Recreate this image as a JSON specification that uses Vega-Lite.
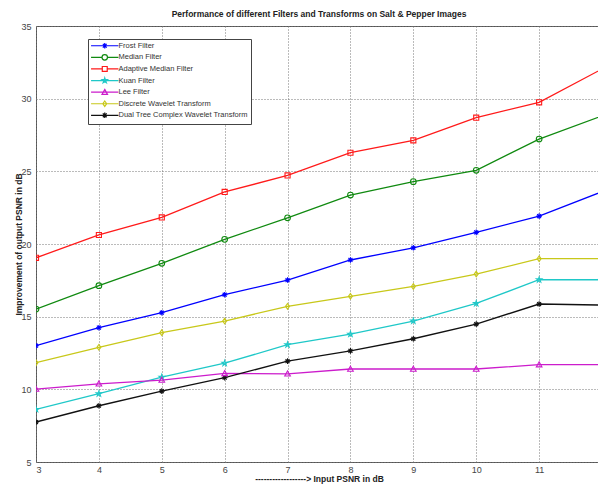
{
  "$schema": "https://vega.github.io/schema/vega-lite/v6.json",
  "width": 566,
  "height": 436,
  "autosize": {"type": "none"},
  "padding": {"left": 36, "top": 26, "right": 0, "bottom": 22},
  "background": "white",
  "config": {
    "font": "Liberation Sans",
    "view": {"stroke": "#555", "strokeWidth": 1},
    "axis": {
      "gridColor": "#777",
      "gridDash": [1, 2],
      "gridOpacity": 1,
      "domain": false,
      "ticks": false,
      "labelFont": "Liberation Sans",
      "labelFontSize": 9,
      "labelColor": "#444",
      "titleFont": "Liberation Sans",
      "titleFontSize": 8.5,
      "titleFontWeight": "bold",
      "titleColor": "#222"
    },
    "legend": {
      "orient": "none",
      "legendX": 52,
      "legendY": 13,
      "padding": 3,
      "fillColor": "white",
      "strokeColor": "#444",
      "symbolSize": 30,
      "symbolOffset": 10,
      "symbolStrokeWidth": 1.2,
      "symbolFillColor": "transparent",
      "labelOffset": 10,
      "labelFontSize": 7.5,
      "labelFont": "Liberation Sans",
      "labelColor": "#333",
      "labelLimit": 300,
      "rowPadding": 0.6
    }
  },
  "title": {
    "text": "Performance of different Filters and Transforms on Salt & Pepper Images",
    "fontSize": 8.5,
    "fontWeight": "bold",
    "font": "Liberation Sans",
    "color": "#222",
    "anchor": "middle",
    "offset": 4
  },
  "data": {
    "values": [
      {"s": "Frost Filter", "x": 3, "y": 13.0}, {"s": "Frost Filter", "x": 4, "y": 14.24}, {"s": "Frost Filter", "x": 5, "y": 15.27}, {"s": "Frost Filter", "x": 6, "y": 16.51}, {"s": "Frost Filter", "x": 7, "y": 17.52}, {"s": "Frost Filter", "x": 8, "y": 18.9}, {"s": "Frost Filter", "x": 9, "y": 19.74}, {"s": "Frost Filter", "x": 10, "y": 20.8}, {"s": "Frost Filter", "x": 11, "y": 21.92}, {"s": "Frost Filter", "x": 12, "y": 23.6},
      {"s": "Median Filter", "x": 3, "y": 15.52}, {"s": "Median Filter", "x": 4, "y": 17.13}, {"s": "Median Filter", "x": 5, "y": 18.67}, {"s": "Median Filter", "x": 6, "y": 20.32}, {"s": "Median Filter", "x": 7, "y": 21.8}, {"s": "Median Filter", "x": 8, "y": 23.37}, {"s": "Median Filter", "x": 9, "y": 24.29}, {"s": "Median Filter", "x": 10, "y": 25.07}, {"s": "Median Filter", "x": 11, "y": 27.22}, {"s": "Median Filter", "x": 12, "y": 28.81},
      {"s": "Adaptive Median Filter", "x": 3, "y": 19.05}, {"s": "Adaptive Median Filter", "x": 4, "y": 20.62}, {"s": "Adaptive Median Filter", "x": 5, "y": 21.83}, {"s": "Adaptive Median Filter", "x": 6, "y": 23.58}, {"s": "Adaptive Median Filter", "x": 7, "y": 24.72}, {"s": "Adaptive Median Filter", "x": 8, "y": 26.28}, {"s": "Adaptive Median Filter", "x": 9, "y": 27.13}, {"s": "Adaptive Median Filter", "x": 10, "y": 28.69}, {"s": "Adaptive Median Filter", "x": 11, "y": 29.75}, {"s": "Adaptive Median Filter", "x": 12, "y": 32.04},
      {"s": "Kuan Filter", "x": 3, "y": 8.62}, {"s": "Kuan Filter", "x": 4, "y": 9.7}, {"s": "Kuan Filter", "x": 5, "y": 10.84}, {"s": "Kuan Filter", "x": 6, "y": 11.8}, {"s": "Kuan Filter", "x": 7, "y": 13.07}, {"s": "Kuan Filter", "x": 8, "y": 13.8}, {"s": "Kuan Filter", "x": 9, "y": 14.7}, {"s": "Kuan Filter", "x": 10, "y": 15.91}, {"s": "Kuan Filter", "x": 11, "y": 17.54}, {"s": "Kuan Filter", "x": 12, "y": 17.54},
      {"s": "Lee Filter", "x": 3, "y": 10.02}, {"s": "Lee Filter", "x": 4, "y": 10.38}, {"s": "Lee Filter", "x": 5, "y": 10.64}, {"s": "Lee Filter", "x": 6, "y": 11.1}, {"s": "Lee Filter", "x": 7, "y": 11.07}, {"s": "Lee Filter", "x": 8, "y": 11.4}, {"s": "Lee Filter", "x": 9, "y": 11.4}, {"s": "Lee Filter", "x": 10, "y": 11.4}, {"s": "Lee Filter", "x": 11, "y": 11.7}, {"s": "Lee Filter", "x": 12, "y": 11.7},
      {"s": "Discrete Wavelet Transform", "x": 3, "y": 11.83}, {"s": "Discrete Wavelet Transform", "x": 4, "y": 12.89}, {"s": "Discrete Wavelet Transform", "x": 5, "y": 13.9}, {"s": "Discrete Wavelet Transform", "x": 6, "y": 14.7}, {"s": "Discrete Wavelet Transform", "x": 7, "y": 15.71}, {"s": "Discrete Wavelet Transform", "x": 8, "y": 16.4}, {"s": "Discrete Wavelet Transform", "x": 9, "y": 17.08}, {"s": "Discrete Wavelet Transform", "x": 10, "y": 17.93}, {"s": "Discrete Wavelet Transform", "x": 11, "y": 18.99}, {"s": "Discrete Wavelet Transform", "x": 12, "y": 19.0},
      {"s": "Dual Tree Complex Wavelet Transform", "x": 3, "y": 7.75}, {"s": "Dual Tree Complex Wavelet Transform", "x": 4, "y": 8.87}, {"s": "Dual Tree Complex Wavelet Transform", "x": 5, "y": 9.88}, {"s": "Dual Tree Complex Wavelet Transform", "x": 6, "y": 10.8}, {"s": "Dual Tree Complex Wavelet Transform", "x": 7, "y": 11.94}, {"s": "Dual Tree Complex Wavelet Transform", "x": 8, "y": 12.65}, {"s": "Dual Tree Complex Wavelet Transform", "x": 9, "y": 13.48}, {"s": "Dual Tree Complex Wavelet Transform", "x": 10, "y": 14.49}, {"s": "Dual Tree Complex Wavelet Transform", "x": 11, "y": 15.87}, {"s": "Dual Tree Complex Wavelet Transform", "x": 12, "y": 15.8}
    ]
  },
  "encoding": {
    "x": {
      "field": "x", "type": "quantitative",
      "scale": {"domain": [3, 12], "nice": false, "zero": false},
      "axis": {"values": [3, 4, 5, 6, 7, 8, 9, 10, 11], "labelPadding": 3, "title": "------------------> Input PSNR in dB", "titlePadding": 0}
    },
    "y": {
      "field": "y", "type": "quantitative",
      "scale": {"domain": [5, 35], "nice": false, "zero": false},
      "axis": {"values": [5, 10, 15, 20, 25, 30, 35], "labelPadding": 5, "title": "Improvement of output PSNR in dB", "titlePadding": -3}
    },
    "color": {
      "field": "s", "type": "nominal",
      "scale": {
        "domain": ["Frost Filter", "Median Filter", "Adaptive Median Filter", "Kuan Filter", "Lee Filter", "Discrete Wavelet Transform", "Dual Tree Complex Wavelet Transform"],
        "range": ["#0000ff", "#108a10", "#ff1a1a", "#1fc8c8", "#cc1ccc", "#c8c81a", "#111111"]
      },
      "legend": {"title": null}
    }
  },
  "layer": [
    {"mark": {"type": "line", "strokeWidth": 1.3, "clip": true}},
    {"transform": [{"filter": "datum.s === 'Frost Filter' || datum.s === 'Dual Tree Complex Wavelet Transform'"}],
     "mark": {"type": "point", "filled": false, "strokeWidth": 1.1, "size": 32, "opacity": 1, "clip": true, "shape": "M0,-1V1M-1,0H1M-0.7,-0.7L0.7,0.7M-0.7,0.7L0.7,-0.7"}},
    {"transform": [{"filter": "datum.s === 'Median Filter'"}],
     "mark": {"type": "point", "filled": false, "strokeWidth": 1.1, "size": 32, "opacity": 1, "clip": true, "shape": "M1,0A1,1 0 1,1 -1,0A1,1 0 1,1 1,0Z"}},
    {"transform": [{"filter": "datum.s === 'Adaptive Median Filter'"}],
     "mark": {"type": "point", "filled": false, "strokeWidth": 1.1, "size": 32, "opacity": 1, "clip": true, "shape": "M-0.9,-0.9H0.9V0.9H-0.9Z"}},
    {"transform": [{"filter": "datum.s === 'Kuan Filter'"}],
     "mark": {"type": "point", "filled": false, "strokeWidth": 1.1, "size": 32, "opacity": 1, "clip": true, "shape": "M0,-1L0.2245,-0.309L0.951,-0.309L0.363,0.118L0.588,0.809L0,0.382L-0.588,0.809L-0.363,0.118L-0.951,-0.309L-0.2245,-0.309Z"}},
    {"transform": [{"filter": "datum.s === 'Lee Filter'"}],
     "mark": {"type": "point", "filled": false, "strokeWidth": 1.1, "size": 32, "opacity": 1, "clip": true, "shape": "M0,-1L1,0.8H-1Z"}},
    {"transform": [{"filter": "datum.s === 'Discrete Wavelet Transform'"}],
     "mark": {"type": "point", "filled": false, "strokeWidth": 1.1, "size": 32, "opacity": 1, "clip": true, "shape": "M0,-1L0.7,0L0,1L-0.7,0Z"}},
    {"transform": [{"filter": "datum.x > 100"}],
     "mark": {"type": "point", "filled": false, "strokeWidth": 1.2, "opacity": 1},
     "encoding": {
       "shape": {
         "field": "s", "type": "nominal",
         "scale": {
           "domain": ["Frost Filter", "Median Filter", "Adaptive Median Filter", "Kuan Filter", "Lee Filter", "Discrete Wavelet Transform", "Dual Tree Complex Wavelet Transform"],
           "range": [
             "M-5,0H5M0,-1V1M-0.7,-0.7L0.7,0.7M-0.7,0.7L0.7,-0.7",
             "M-5,0H-1M1,0H5M1,0A1,1 0 1,1 -1,0A1,1 0 1,1 1,0Z",
             "M-5,0H-0.9M0.9,0H5M-0.9,-0.9H0.9V0.9H-0.9Z",
             "M-5,0H5M0,-1L0.2245,-0.309L0.951,-0.309L0.363,0.118L0.588,0.809L0,0.382L-0.588,0.809L-0.363,0.118L-0.951,-0.309L-0.2245,-0.309Z",
             "M-5,0H5M0,-1L1,0.8H-1Z",
             "M-5,0H5M0,-1L0.7,0L0,1L-0.7,0Z",
             "M-5,0H5M0,-1V1M-0.7,-0.7L0.7,0.7M-0.7,0.7L0.7,-0.7"
           ]
         },
         "legend": {"title": null}
       }
     }}
  ]
}
